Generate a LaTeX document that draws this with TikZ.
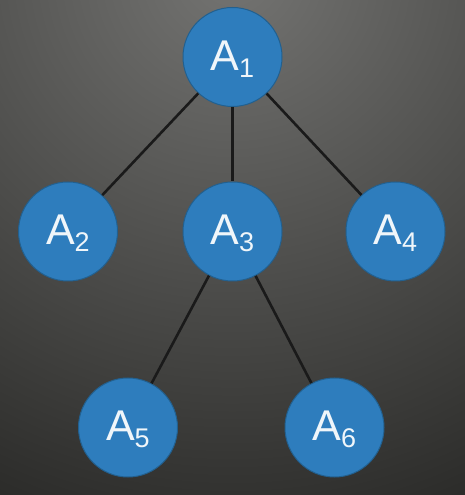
\documentclass[tikz,border=0pt]{standalone}
\usepackage{fontspec}
\setmainfont{Liberation Sans}
\definecolor{bgtop}{HTML}{747472}
\definecolor{bgbot}{HTML}{2B2B29}
\definecolor{nodeblue}{HTML}{2E7DBD}
\definecolor{nodeedge}{HTML}{22608F}
\definecolor{edgecol}{HTML}{1A1A1A}
\newcommand{\lbl}[1]{\fontsize{43}{43}\selectfont A\kern-0.5pt\raisebox{-7pt}{\fontsize{27}{27}\selectfont #1}}
\tikzset{
  treenode/.style={circle, minimum size=99pt, inner sep=0pt, fill=nodeblue, draw=nodeedge, line width=1pt,
    text=white!93!nodeblue, text height=27pt, text depth=0pt},
  treeedge/.style={draw=edgecol, line width=2.6pt}
}
\begin{document}
\begin{tikzpicture}[x=1pt,y=1pt]
\useasboundingbox (0,0) rectangle (465,495);
\begin{scope}
  \clip (0,0) rectangle (465,495);
  \fill[bgbot] (0,0) rectangle (465,495);
  \shade[inner color=bgtop, outer color=bgbot] (232,525) circle (580);
\end{scope}
\node[treenode] (a1) at (232.5,438) {\lbl{1}};
\node[treenode] (a2) at (68,263.5) {\lbl{2}};
\node[treenode] (a3) at (232.5,263.5) {\lbl{3}};
\node[treenode] (a4) at (395.5,263.5) {\lbl{4}};
\node[treenode] (a5) at (128,67.5) {\lbl{5}};
\node[treenode] (a6) at (334.5,67.5) {\lbl{6}};
\draw[treeedge] (a1) -- (a2);
\draw[treeedge] (a1) -- (a3);
\draw[treeedge] (a1) -- (a4);
\draw[treeedge] (a3) -- (a5);
\draw[treeedge] (a3) -- (a6);
\end{tikzpicture}
\end{document}
